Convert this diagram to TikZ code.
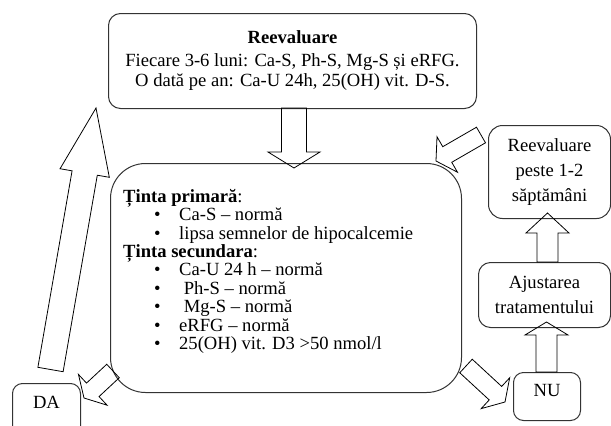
\documentclass[tikz,border=0pt]{standalone}
\usepackage{fontspec}
\setmainfont{Liberation Serif}
\usetikzlibrary{calc}
\newcommand\blockarr[5]{%
  \coordinate (#1#2h) at ($(#2)!#5!(#1)$);
  \draw[barrow] ($(#1)!#3!90:(#2)$) -- ($(#1#2h)!#3!90:(#2)$) -- ($(#1#2h)!#4!90:(#2)$) -- (#2)
    -- ($(#1#2h)!#4!-90:(#2)$) -- ($(#1#2h)!#3!-90:(#2)$) -- ($(#1)!#3!-90:(#2)$) -- cycle;}
\begin{document}
\begin{tikzpicture}[x=1pt,y=-1pt,
  box/.style={draw=black!80, line width=1pt, rounded corners=#1, anchor=north west, inner sep=0pt,
    font=\fontsize{18.6pt}{25pt}\selectfont, align=center},
  sbox/.style={draw=black!80, line width=1pt, rounded corners=#1, anchor=north west, inner sep=0pt,
    font=\fontsize{18.6pt}{25pt}\selectfont},
  barrow/.style={draw=black, line width=0.8pt, line join=miter}]
\path[use as bounding box] (0,0) rectangle (611,426);
% boxes
\node[box=12pt, minimum width=368pt, minimum height=95pt, font=\fontsize{18.6pt}{20pt}\selectfont] (top) at (108,13)
  {\textbf{Reevaluare}\\[3pt] Fiecare 3-6 luni: Ca-S, Ph-S, Mg-S și eRFG.\\ O dată pe an: Ca-U 24h, 25(OH) vit. D-S.};
\node[box=35pt, minimum width=351pt, minimum height=229pt] (main) at (110,163) {};
\node[anchor=north west, inner sep=0pt, align=left, font=\fontsize{18.6pt}{18.4pt}\selectfont] (maintext) at (123,189)
  {\textbf{Ținta primară}:\\
   \hspace*{31pt}\makebox[25pt][l]{•}Ca-S – normă\\
   \hspace*{31pt}\makebox[25pt][l]{•}lipsa semnelor de hipocalcemie\\
   \textbf{Ținta secundara}:\\
   \hspace*{31pt}\makebox[25pt][l]{•}Ca-U 24 h – normă\\
   \hspace*{31pt}\makebox[25pt][l]{•}\ Ph-S – normă\\
   \hspace*{31pt}\makebox[25pt][l]{•}\ Mg-S – normă\\
   \hspace*{31pt}\makebox[25pt][l]{•}eRFG – normă\\
   \hspace*{31pt}\makebox[25pt][l]{•}25(OH) vit. D3 >50 nmol/l};
\node[box=14pt, minimum width=122pt, minimum height=93pt] (rp) at (488,125) {Reevaluare\\peste 1-2\\săptămâni};
\node[box=12pt, minimum width=132pt, minimum height=65pt] (aj) at (478,262) {Ajustarea\\tratamentului};
\node[sbox=10pt, minimum width=67pt, text height=24pt, text depth=24pt] (nu) at (513,372) {NU};
\node[sbox=10pt, minimum width=68pt, text height=25pt, text depth=32pt] (da) at (12,383) {DA};
% block arrows
\coordinate (a1t) at (294,108); \coordinate (a1h) at (294,168);
\coordinate (a2t) at (50.5,369.5); \coordinate (a2h) at (96,108);
\coordinate (a3t) at (113,371); \coordinate (a3h) at (84,398);
\coordinate (a4t) at (466,366); \coordinate (a4h) at (505,402);
\coordinate (a5t) at (546.5,372); \coordinate (a5h) at (546.5,322);
\coordinate (a6t) at (547.5,262); \coordinate (a6h) at (547.5,213);
\coordinate (a7t) at (481,135); \coordinate (a7h) at (436,161);
\blockarr{a1t}{a1h}{12.5pt}{26pt}{16pt}
\blockarr{a2t}{a2h}{12.8pt}{25pt}{66pt}
\blockarr{a3t}{a3h}{9.2pt}{21pt}{12pt}
\blockarr{a4t}{a4h}{9.2pt}{21pt}{13pt}
\blockarr{a5t}{a5h}{10.5pt}{21.5pt}{13pt}
\blockarr{a6t}{a6h}{10.5pt}{21.5pt}{20pt}
\blockarr{a7t}{a7h}{9pt}{20.5pt}{13pt}
\end{tikzpicture}
\end{document}
